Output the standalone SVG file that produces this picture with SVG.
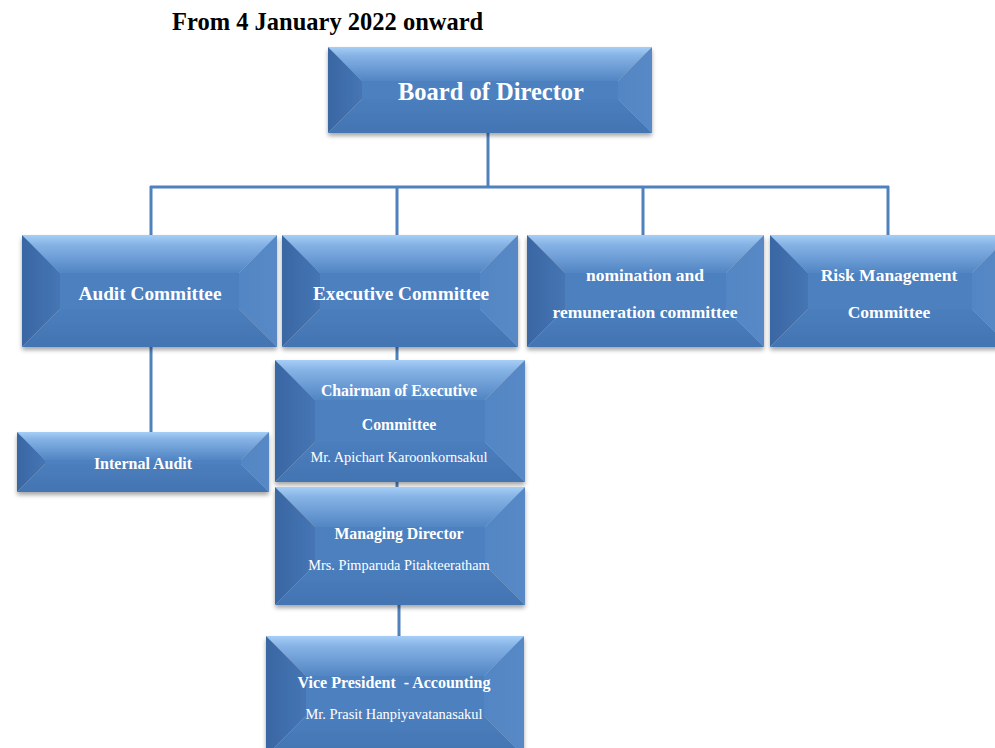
<svg xmlns="http://www.w3.org/2000/svg" width="995" height="748" viewBox="0 0 995 748">
  <defs>
    <linearGradient id="gTop" x1="0" y1="0" x2="0" y2="1">
      <stop offset="0" stop-color="#A6CEF6"/>
      <stop offset="0.25" stop-color="#86B3E6"/>
      <stop offset="1" stop-color="#5185C3"/>
    </linearGradient>
    <linearGradient id="gLeft" x1="0" y1="0" x2="1" y2="0">
      <stop offset="0" stop-color="#3967A3"/>
      <stop offset="1" stop-color="#4675B4"/>
    </linearGradient>
    <linearGradient id="gRight" x1="0" y1="0" x2="1" y2="0">
      <stop offset="0" stop-color="#5286C4"/>
      <stop offset="1" stop-color="#5889C6"/>
    </linearGradient>
    <linearGradient id="gBottom" x1="0" y1="0" x2="0" y2="1">
      <stop offset="0" stop-color="#4B7EBD"/>
      <stop offset="1" stop-color="#4374B2"/>
    </linearGradient>
    <filter id="shadow" x="-5%" y="-10%" width="110%" height="130%">
      <feDropShadow dx="0" dy="3" stdDeviation="2" flood-color="#000" flood-opacity="0.35"/>
    </filter>
  </defs>
  <style>
    .top { fill: url(#gTop); }
    .left { fill: url(#gLeft); }
    .right { fill: url(#gRight); }
    .bottom { fill: url(#gBottom); }
    .face { fill: #4D80BF; }
    .box { filter: url(#shadow); }
    .conn { stroke: #4F81BD; stroke-width: 3; fill: none; }
    text { font-family: "Liberation Serif", "Times New Roman", serif; fill: #FFFFFF; text-anchor: middle; }
    .b { font-weight: bold; }
    .title { fill: #000000; text-anchor: start; font-weight: bold; font-size: 24.5px; }
  </style>

  <rect width="995" height="748" fill="#FFFFFF"/>

  <text class="title" x="172" y="30">From 4 January 2022 onward</text>

  <!-- connectors -->
  <g id="connectors">
    <line class="conn" x1="488" y1="133" x2="488" y2="187"/>
    <line class="conn" x1="150" y1="187" x2="889" y2="187"/>
    <line class="conn" x1="151" y1="186" x2="151" y2="235"/>
    <line class="conn" x1="397" y1="186" x2="397" y2="235"/>
    <line class="conn" x1="643" y1="186" x2="643" y2="235"/>
    <line class="conn" x1="888" y1="186" x2="888" y2="235"/>
    <line class="conn" x1="151" y1="347" x2="151" y2="432"/>
    <line class="conn" x1="397" y1="347" x2="397" y2="360"/>
    <line class="conn" x1="397" y1="482" x2="397" y2="487"/>
    <line class="conn" x1="399" y1="605" x2="399" y2="636"/>
  </g>

  <!-- Board of Director -->
  <g id="board" transform="translate(328,47)">
    <g class="box">
      <polygon class="top" points="0,0 324,0 290,34 34,34"/>
      <polygon class="left" points="0,0 34,34 34,52 0,86"/>
      <polygon class="right" points="324,0 324,86 290,52 290,34"/>
      <polygon class="bottom" points="0,86 34,52 290,52 324,86"/>
      <rect class="face" x="34" y="34" width="256" height="18"/>
    </g>
    <text class="b" x="163" y="53" font-size="24.5">Board of Director</text>
  </g>

  <!-- Audit Committee -->
  <g id="audit" transform="translate(22,235)">
    <g class="box">
      <polygon class="top" points="0,0 255,0 217,38 38,38"/>
      <polygon class="left" points="0,0 38,38 38,74 0,112"/>
      <polygon class="right" points="255,0 255,112 217,74 217,38"/>
      <polygon class="bottom" points="0,112 38,74 217,74 255,112"/>
      <rect class="face" x="38" y="38" width="179" height="36"/>
    </g>
    <text class="b" x="128" y="65" font-size="19.3">Audit Committee</text>
  </g>

  <!-- Executive Committee -->
  <g id="executive" transform="translate(282,235)">
    <g class="box">
      <polygon class="top" points="0,0 236,0 198,38 38,38"/>
      <polygon class="left" points="0,0 38,38 38,74 0,112"/>
      <polygon class="right" points="236,0 236,112 198,74 198,38"/>
      <polygon class="bottom" points="0,112 38,74 198,74 236,112"/>
      <rect class="face" x="38" y="38" width="160" height="36"/>
    </g>
    <text class="b" x="119" y="65" font-size="19.3">Executive Committee</text>
  </g>

  <!-- Nomination and remuneration committee -->
  <g id="nomination" transform="translate(527,235)">
    <g class="box">
      <polygon class="top" points="0,0 237,0 199,38 38,38"/>
      <polygon class="left" points="0,0 38,38 38,74 0,112"/>
      <polygon class="right" points="237,0 237,112 199,74 199,38"/>
      <polygon class="bottom" points="0,112 38,74 199,74 237,112"/>
      <rect class="face" x="38" y="38" width="161" height="36"/>
    </g>
    <text class="b" x="118" y="46" font-size="17.5">nomination and</text>
    <text class="b" x="118" y="83" font-size="17.5">remuneration committee</text>
  </g>

  <!-- Risk Management Committee -->
  <g id="risk" transform="translate(770,235)">
    <g class="box">
      <polygon class="top" points="0,0 240,0 202,38 38,38"/>
      <polygon class="left" points="0,0 38,38 38,74 0,112"/>
      <polygon class="right" points="240,0 240,112 202,74 202,38"/>
      <polygon class="bottom" points="0,112 38,74 202,74 240,112"/>
      <rect class="face" x="38" y="38" width="164" height="36"/>
    </g>
    <text class="b" x="119" y="46" font-size="17.5">Risk Management</text>
    <text class="b" x="119" y="83" font-size="17.5">Committee</text>
  </g>

  <!-- Internal Audit -->
  <g id="internal-audit" transform="translate(17,432)">
    <g class="box">
      <polygon class="top" points="0,0 252,0 224,28 28,28"/>
      <polygon class="left" points="0,0 28,28 28,32 0,60"/>
      <polygon class="right" points="252,0 252,60 224,32 224,28"/>
      <polygon class="bottom" points="0,60 28,32 224,32 252,60"/>
      <rect class="face" x="28" y="28" width="196" height="4"/>
    </g>
    <text class="b" x="126" y="37" font-size="16">Internal Audit</text>
  </g>

  <!-- Chairman of Executive Committee -->
  <g id="chairman" transform="translate(275,360)">
    <g class="box">
      <polygon class="top" points="0,0 250,0 210,40 40,40"/>
      <polygon class="left" points="0,0 40,40 40,82 0,122"/>
      <polygon class="right" points="250,0 250,122 210,82 210,40"/>
      <polygon class="bottom" points="0,122 40,82 210,82 250,122"/>
      <rect class="face" x="40" y="40" width="170" height="42"/>
    </g>
    <text class="b" x="124" y="36" font-size="15.8">Chairman of Executive</text>
    <text class="b" x="124" y="70" font-size="15.8">Committee</text>
    <text x="124" y="102" font-size="14.4">Mr. Apichart Karoonkornsakul</text>
  </g>

  <!-- Managing Director -->
  <g id="managing" transform="translate(275,487)">
    <g class="box">
      <polygon class="top" points="0,0 250,0 210,40 40,40"/>
      <polygon class="left" points="0,0 40,40 40,78 0,118"/>
      <polygon class="right" points="250,0 250,118 210,78 210,40"/>
      <polygon class="bottom" points="0,118 40,78 210,78 250,118"/>
      <rect class="face" x="40" y="40" width="170" height="38"/>
    </g>
    <text class="b" x="124" y="52" font-size="15.8">Managing Director</text>
    <text x="124" y="83" font-size="14.3">Mrs. Pimparuda Pitakteeratham</text>
  </g>

  <!-- Vice President - Accounting -->
  <g id="vice-president" transform="translate(266,636)">
    <g class="box">
      <polygon class="top" points="0,0 258,0 218,40 40,40"/>
      <polygon class="left" points="0,0 40,40 40,80 0,120"/>
      <polygon class="right" points="258,0 258,120 218,80 218,40"/>
      <polygon class="bottom" points="0,120 40,80 218,80 258,120"/>
      <rect class="face" x="40" y="40" width="178" height="40"/>
    </g>
    <text class="b" x="128" y="52" font-size="16" xml:space="preserve">Vice President  - Accounting</text>
    <text x="128" y="83" font-size="14.4">Mr. Prasit Hanpiyavatanasakul</text>
  </g>
</svg>
